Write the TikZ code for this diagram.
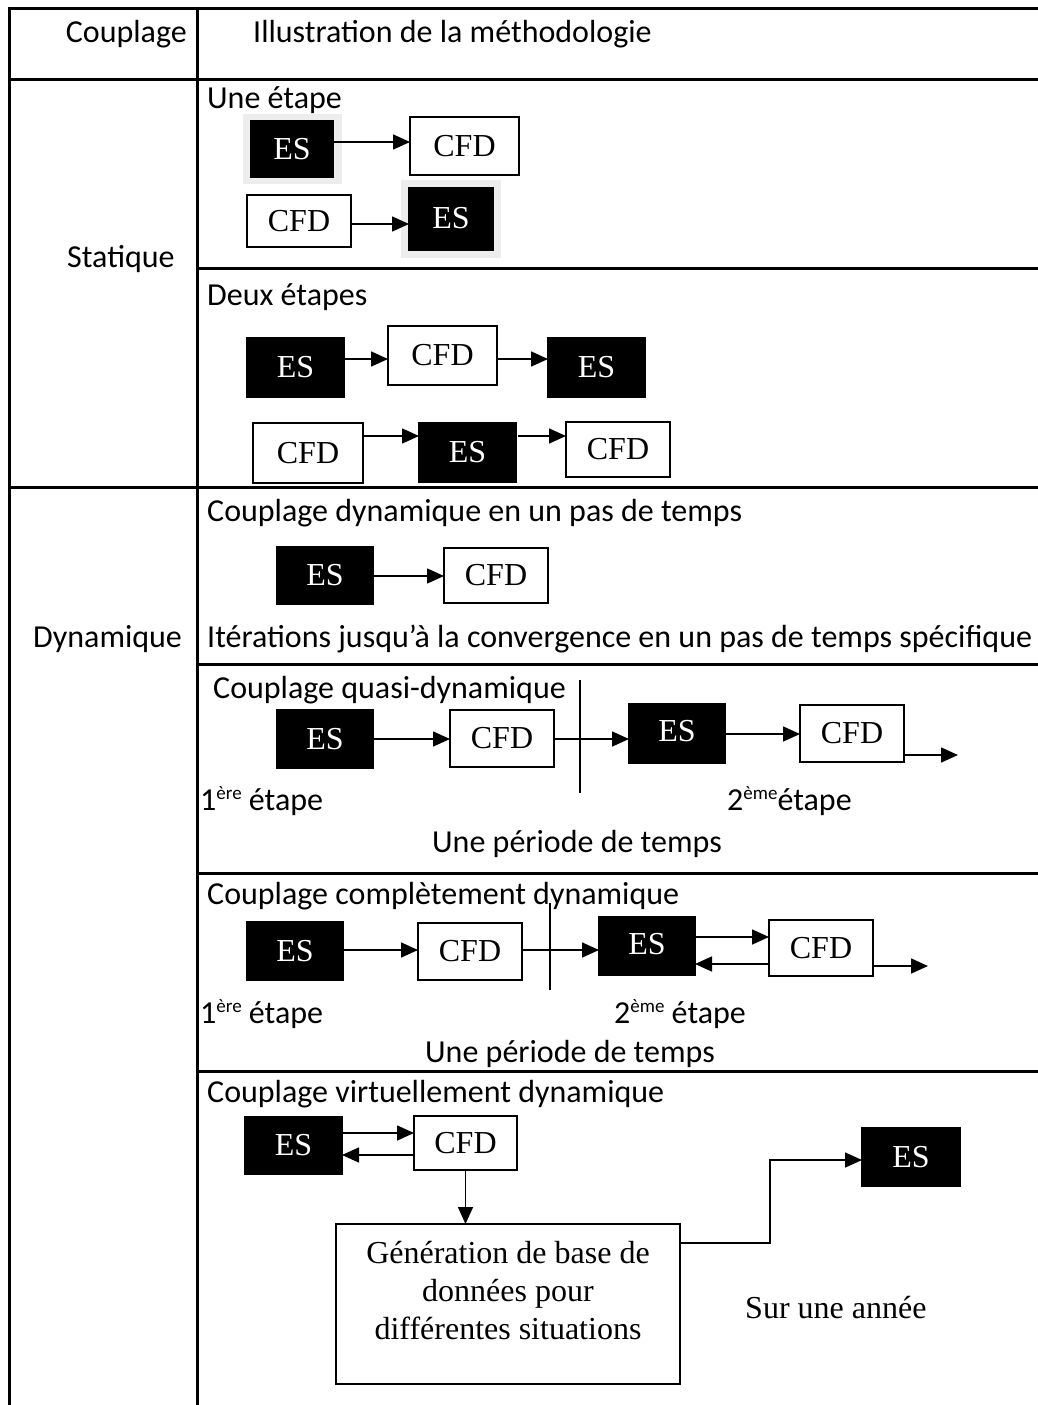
\documentclass[tikz,border=0pt]{standalone}
\usepackage{fontspec}
\setmainfont{Carlito}
\newfontfamily\tms{Liberation Serif}
\usetikzlibrary{arrows.meta,calc}
\tikzset{
 grid/.style={line width=3pt},
 lbl/.style={anchor=mid west, inner sep=0pt, font=\fontsize{32}{38}\selectfont},
 boxbase/.style={rectangle, inner sep=0pt, outer sep=0pt, line width=1.5pt, font=\tms\fontsize{32}{38}\selectfont},
 esbox/.style={boxbase, fill=black, draw=black, text=white},
 cfdbox/.style={boxbase, draw=black, fill=white},
 arr/.style={line width=1.6pt, -{Triangle[length=17pt,width=15pt]}},
 sep/.style={line width=1.5pt},
 halo/.style={fill=black!7},
}
\newcommand\bx[7]{\node[#6, minimum width={(#4)-(#2)}, minimum height={(#5)-(#3)}] (#1) at ({((#2)+(#4))/2},{((#3)+(#5))/2}) {#7};}
\newcommand\expo[1]{\raisebox{11pt}{\fontsize{19}{19}\selectfont #1}}
\begin{document}
\begin{tikzpicture}[x=1pt,y=-1pt]
\useasboundingbox (0,0) rectangle (1038,1405);
% halos behind
\fill[halo] (243,114) rectangle (342,184);
\fill[halo] (401,180) rectangle (501,258);
% table
\draw[grid] (1038,9) -| (9,1405);
\draw[grid] (197,9) -- (197,1405);
\draw[grid] (9,79) -- (1038,79);
\draw[grid] (197,268) -- (1038,268);
\draw[grid] (9,487) -- (1038,487);
\draw[grid] (197,664) -- (1038,664);
\draw[grid] (197,873) -- (1038,873);
\draw[grid] (197,1071) -- (1038,1071);
% headers and labels
\node[lbl, anchor=mid east] (hc) at (187,40) {Couplage};
\node[lbl] (hi) at (253,40) {Illustration de la méthodologie};
\node[lbl] (stat) at (67,265) {Statique};
\node[lbl] (dyn) at (33,645) {Dynamique};
\node[lbl] (t1) at (207,106) {Une étape};
\node[lbl] (t2) at (207,303) {Deux étapes};
\node[lbl] (t3) at (207,519) {Couplage dynamique en un pas de temps};
\node[lbl] (t3b) at (207,645) {Itérations jusqu’à la convergence en un pas de temps spécifique};
\node[lbl] (t4) at (213,696) {Couplage quasi-dynamique};
\node[lbl] (t4a) at (200,808) {1\expo{ère} étape};
\node[lbl] (t4b) at (727,808) {2\expo{ème}étape};
\node[lbl] (t4c) at (432,850) {Une période de temps};
\node[lbl] (t5) at (207,902) {Couplage complètement dynamique};
\node[lbl] (t5a) at (200,1021) {1\expo{ère} étape};
\node[lbl] (t5b) at (614,1021) {2\expo{ème} étape};
\node[lbl] (t5c) at (425,1060) {Une période de temps};
\node[lbl] (t6) at (207,1100) {Couplage virtuellement dynamique};
% Une etape
\bx{esA}{251}{121}{333}{177}{esbox}{ES}
\bx{cfdA}{410}{117}{519}{175}{cfdbox}{CFD}
\draw[arr] (esA.east |- 0,142) -- (cfdA.west |- 0,142);
\bx{cfdB}{247}{195}{351}{247}{cfdbox}{CFD}
\bx{esB}{409}{188}{493}{250}{esbox}{\raisebox{3pt}{ES}}
\draw[arr] (cfdB.east |- 0,224) -- (esB.west |- 0,224);
% Deux etapes
\bx{esC}{247}{338}{344}{397}{esbox}{ES\hspace{22pt}}
\bx{cfdC}{388}{326}{497}{385}{cfdbox}{CFD}
\bx{esD}{548}{338}{645}{397}{esbox}{ES\hspace{22pt}}
\draw[arr] (esC.east |- 0,359) -- (cfdC.west |- 0,359);
\draw[arr] (cfdC.east |- 0,359) -- (esD.west |- 0,359);
\bx{cfdD}{253}{423}{363}{483}{cfdbox}{CFD}
\bx{esE}{419}{423}{516}{482}{esbox}{ES\hspace{22pt}}
\bx{cfdE}{566}{422}{670}{477}{cfdbox}{CFD}
\draw[arr] (cfdD.east |- 0,436) -- (esE.west |- 0,436);
\draw[arr] ([xshift=2pt]esE.east |- 0,436) -- (cfdE.west |- 0,436);
% dynamique en un pas
\bx{esF}{277}{547}{373}{604}{esbox}{ES\hspace{20pt}}
\bx{cfdF}{444}{548}{548}{603}{cfdbox}{CFD}
\draw[arr] (esF.east |- 0,576) -- (cfdF.west |- 0,576);
% quasi-dynamique
\coordinate (qT) at (580,680);
\coordinate (qB) at (580,793);
\draw[sep] (qT) -- (qB);
\bx{esG}{277}{710}{373}{768}{esbox}{ES\hspace{20pt}}
\bx{cfdG}{450}{710}{554}{767}{cfdbox}{CFD}
\bx{esH}{629}{704}{725}{763}{esbox}{\raisebox{5pt}{ES}\hspace{20pt}}
\bx{cfdH}{800}{705}{904}{762}{cfdbox}{CFD}
\coordinate (qOut) at (958,755);
\draw[arr] (esG.east |- 0,739) -- (cfdG.west |- 0,739);
\draw[arr] (cfdG.east |- 0,739) -- (esH.west |- 0,739);
\draw[arr] (esH.east |- 0,734) -- (cfdH.west |- 0,734);
\draw[arr] (cfdH.east |- qOut) -- (qOut);
% completement dynamique
\coordinate (cT) at (550,903);
\coordinate (cB) at (550,990);
\draw[sep] (cT) -- (cB);
\bx{esI}{247}{922}{343}{980}{esbox}{ES\hspace{20pt}}
\bx{cfdI}{418}{923}{522}{980}{cfdbox}{CFD}
\bx{esJ}{599}{917}{695}{975}{esbox}{\raisebox{5pt}{ES}\hspace{20pt}}
\bx{cfdJ}{769}{920}{873}{976}{cfdbox}{CFD}
\coordinate (cOut) at (928,966);
\draw[arr] (esI.east |- 0,950) -- (cfdI.west |- 0,950);
\draw[arr] (cfdI.east |- 0,950) -- (esJ.west |- 0,950);
\draw[arr] (esJ.east |- 0,937) -- (cfdJ.west |- 0,937);
\draw[arr] (cfdJ.west |- 0,964) -- (esJ.east |- 0,964);
\draw[arr] (cfdJ.east |- cOut) -- (cOut);
% virtuellement dynamique
\bx{esK}{245}{1117}{342}{1174}{esbox}{ES\hspace{16pt}}
\bx{cfdK}{414}{1116}{517}{1170}{cfdbox}{CFD}
\draw[arr] (esK.east |- 0,1133) -- (cfdK.west |- 0,1133);
\draw[arr] (cfdK.west |- 0,1155) -- (esK.east |- 0,1155);
\bx{gen}{336}{1224}{680}{1384}{cfdbox, align=center}{Génération de base de\\données pour\\différentes situations\\[-10pt]\mbox{}}
\draw[arr] (cfdK.south) -- (gen.north -| cfdK.south);
\bx{esL}{862}{1128}{960}{1186}{esbox}{ES\hspace{20pt}}
\coordinate (bend) at (770,1160);
\draw[arr] (gen.east |- 0,1243) -| (bend) -- (esL.west |- bend);
\node[anchor=mid west, inner sep=0pt, font=\tms\fontsize{32}{38}\selectfont] (sur) at (745,1316) {Sur une année};
\end{tikzpicture}
\end{document}
